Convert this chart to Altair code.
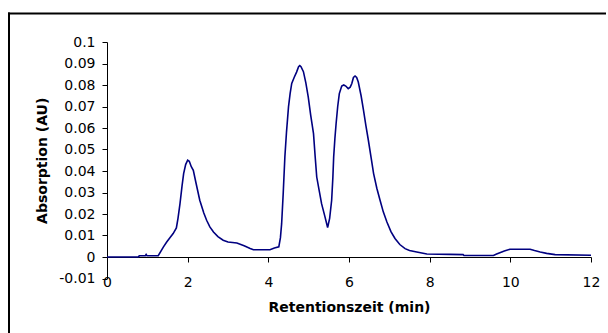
import altair as alt
import pandas as pd

# Retention time (min) and absorbance (AU)
zeit = [0.0, 0.78, 0.80, 0.95, 0.97, 0.99, 1.27, 1.40, 1.48, 1.56, 1.64, 1.72, 1.76,
        1.81, 1.86, 1.90, 1.95, 2.00, 2.04, 2.09, 2.14, 2.20, 2.30, 2.40, 2.47, 2.55,
        2.64, 2.75, 2.88, 3.00, 3.22, 3.40, 3.55, 3.63, 4.04, 4.15, 4.26, 4.30, 4.33,
        4.37, 4.41, 4.45, 4.50, 4.54, 4.58, 4.64, 4.70, 4.75, 4.78, 4.81, 4.87, 4.93,
        4.99, 5.05, 5.12, 5.16, 5.20, 5.26, 5.32, 5.40, 5.47, 5.52, 5.57, 5.60, 5.62,
        5.65, 5.68, 5.72, 5.76, 5.82, 5.87, 5.92, 5.98, 6.03, 6.07, 6.11, 6.15, 6.19,
        6.23, 6.30, 6.36, 6.42, 6.48, 6.55, 6.61, 6.69, 6.77, 6.85, 6.94, 7.04, 7.14,
        7.26, 7.39, 7.50, 7.68, 7.93, 8.50, 8.83, 8.85, 9.58, 9.66, 9.74, 9.85, 9.99,
        10.49, 10.60, 10.74, 10.90, 11.11, 12.0]
absorption = [0.0, 0.0, 0.0006, 0.0006, 0.0012, 0.0006, 0.0006, 0.0047, 0.007, 0.009,
              0.0109, 0.0135, 0.018, 0.0248, 0.033, 0.0388, 0.043, 0.045, 0.0445, 0.042,
              0.0403, 0.035, 0.0264, 0.0205, 0.0171, 0.014, 0.0116, 0.0095, 0.0078,
              0.0070, 0.0065, 0.0052, 0.004, 0.0034, 0.0034, 0.0042, 0.0047, 0.009,
              0.0155, 0.03, 0.0465, 0.058, 0.0698, 0.076, 0.0807, 0.0835, 0.086, 0.0885,
              0.089, 0.0885, 0.0862, 0.081, 0.0744, 0.066, 0.0574, 0.047, 0.0372, 0.031,
              0.0248, 0.019, 0.0137, 0.018, 0.0264, 0.037, 0.0465, 0.055, 0.062, 0.070,
              0.076, 0.0795, 0.0800, 0.0795, 0.0783, 0.079, 0.0807, 0.0835, 0.0842,
              0.0835, 0.0814, 0.075, 0.0682, 0.061, 0.0543, 0.046, 0.0388, 0.032, 0.0264,
              0.021, 0.0163, 0.0118, 0.0086, 0.0058, 0.0039, 0.003, 0.0023, 0.0014,
              0.0012, 0.0011, 0.0007, 0.0007, 0.0014, 0.002, 0.0028, 0.0036, 0.0036,
              0.0030, 0.0023, 0.0017, 0.0011, 0.0008]

x_ticks = [0, 2, 4, 6, 8, 10, 12]
y_ticks = [-0.01, 0.0, 0.01, 0.02, 0.03, 0.04, 0.05, 0.06, 0.07, 0.08, 0.09, 0.1]

df = pd.DataFrame({"zeit": zeit, "abs": absorption})

line = alt.Chart(df).mark_line(color="#000080", strokeWidth=1.6).encode(
    x=alt.X("zeit:Q",
            scale=alt.Scale(domain=[0, 12], nice=False, zero=False),
            axis=alt.Axis(title="Retentionszeit (min)", values=x_ticks, offset=-21.5,
                          grid=False, domainColor="black", tickColor="black",
                          tickSize=5, labelPadding=13.5, labelFontSize=14,
                          labelFont="DejaVu Sans", labelColor="black",
                          titleFont="DejaVu Sans", titleFontSize=14,
                          titleFontWeight="bold", titleColor="black",
                          titlePadding=11, labelFlush=False)),
    y=alt.Y("abs:Q",
            scale=alt.Scale(domain=[-0.01, 0.1], nice=False, zero=False),
            axis=alt.Axis(title="Absorption (AU)", values=y_ticks, grid=False,
                          labelExpr="replace(format(datum.value, '.2~f'), '\u2212', '-')",
                          domainColor="black", tickColor="black", tickSize=5,
                          labelPadding=7, labelFontSize=14, labelFont="DejaVu Sans",
                          labelColor="black", titleFont="DejaVu Sans",
                          titleFontSize=14, titleFontWeight="bold",
                          titleColor="black", titlePadding=9, labelFlush=False)),
)

one_row = alt.Data(values=[{"k": 1}])
frame_top = alt.Chart(one_row).mark_rect(color="black").encode(
    x=alt.value(-99), x2=alt.value(499), y=alt.value(-29.5), y2=alt.value(-27.5)
)
frame_left = alt.Chart(one_row).mark_rect(color="black").encode(
    x=alt.value(-99), x2=alt.value(-97), y=alt.value(-29.5), y2=alt.value(291)
)

chart = alt.layer(frame_top, frame_left, line).properties(
    width=484, height=236.5,
    padding={"left": 107, "top": 42, "right": 17, "bottom": 54},
    autosize=alt.AutoSizeParams(type="none"),
    background="white",
).configure_view(stroke=None)

chart.save("out.html", embed_options={"renderer": "svg", "actions": False})
